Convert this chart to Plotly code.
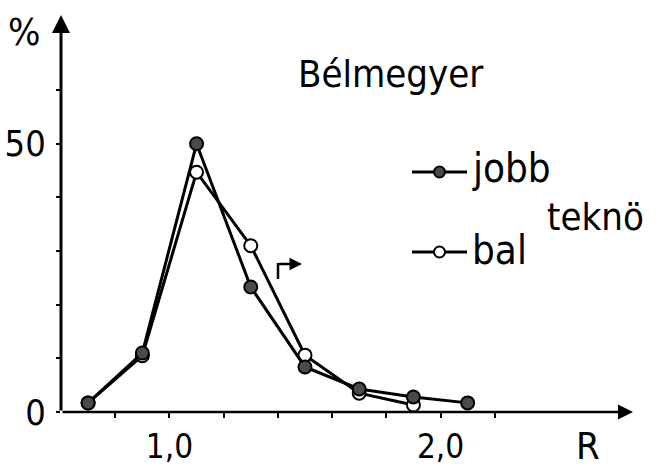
import plotly.graph_objects as go

# ---- data ----
r_jobb = [0.7, 0.9, 1.1, 1.3, 1.5, 1.7, 1.9, 2.1]
pct_jobb = [1.7, 11.0, 50.0, 23.3, 8.4, 4.3, 2.8, 1.7]
r_bal = [0.7, 0.9, 1.1, 1.3, 1.5, 1.7, 1.9]
pct_bal = [1.7, 10.5, 44.7, 31.0, 10.6, 3.5, 1.3]

x_tickvals = [0.8, 1.0, 1.2, 1.4, 1.6, 1.8, 2.0, 2.2]
x_ticktext = ["", "1,0", "", "", "", "", "2,0", ""]
y_tickvals = [0, 10, 20, 30, 40, 50, 60]
y_ticktext = ["0", "", "", "", "", "50", ""]

FONT = "DejaVu Sans Condensed, Liberation Sans Narrow, sans-serif"

# plot-area geometry (px) used for placing decorations
L, R_, T, B = 61, 29, 15, 58
W, H = 662, 470
PW, PH = W - L - R_, H - T - B


def px(x):
    return (x - L) / PW


def py(y):
    return (H - B - y) / PH


fig = go.Figure()

fig.add_trace(go.Scatter(
    x=r_bal, y=pct_bal, mode="lines+markers", name="bal",
    line=dict(color="black", width=3),
    marker=dict(size=13, color="white", line=dict(color="black", width=2)),
    cliponaxis=False,
))
fig.add_trace(go.Scatter(
    x=r_jobb, y=pct_jobb, mode="lines+markers", name="jobb",
    line=dict(color="black", width=3),
    marker=dict(size=13, color="#4a4a4a", line=dict(color="black", width=2)),
    cliponaxis=False,
))

x0, x1 = 0.6, 2.71
y0, y1 = 0, 74

fig.update_xaxes(
    range=[x0, x1], showgrid=False, zeroline=False, showline=False,
    tickvals=x_tickvals, ticktext=x_ticktext, ticks="outside",
    ticklen=5, tickwidth=2, tickcolor="black",
    tickfont=dict(family=FONT, size=33, color="black"),
    ticklabelstandoff=0, automargin=False,
)
fig.update_yaxes(
    range=[y0, y1], showgrid=False, zeroline=False, showline=False,
    tickvals=y_tickvals, ticktext=y_ticktext, ticks="outside",
    ticklen=4, tickwidth=2, tickcolor="black",
    tickfont=dict(family=FONT, size=36, color="black"),
    ticklabelstandoff=3, automargin=False,
)

anns = []
# axes as arrows
anns.append(dict(x=x1, y=0, ax=x0, ay=0, xref="x", yref="y", axref="x", ayref="y",
                 showarrow=True, arrowhead=2, arrowsize=1.2, arrowwidth=2.5,
                 arrowcolor="black", text=""))
anns.append(dict(x=x0, y=y1, ax=x0, ay=0, xref="x", yref="y", axref="x", ayref="y",
                 showarrow=True, arrowhead=2, arrowsize=1.2, arrowwidth=3,
                 arrowcolor="black", text=""))

def text(s, x, y, size, xanchor="left", yanchor="middle"):
    anns.append(dict(text=s, x=px(x), y=py(y), xref="paper", yref="paper",
                     showarrow=False, xanchor=xanchor, yanchor=yanchor,
                     font=dict(family=FONT, size=size, color="black")))

text("%", 6, 32, 38)
text("R", 588, 446, 38, xanchor="center")
text("Bélmegyer", 296, 74, 38)
text("jobb", 470, 168, 40)
text("bal", 470, 250, 40)
text("teknö", 545, 217, 38)

# little arrow mark near the curve
anns.append(dict(x=px(302), y=py(264), ax=-25, ay=0, xref="paper", yref="paper",
                 axref="pixel", ayref="pixel", showarrow=True, arrowhead=2, arrowsize=1,
                 arrowwidth=2.5, arrowcolor="black", text=""))

shapes = []
shapes.append(dict(type="line", xref="paper", yref="paper", x0=px(278), x1=px(278),
                   y0=py(279), y1=py(263), line=dict(color="black", width=2.5)))
# legend keys
for ky, fill in [(172, "#4a4a4a"), (252, "white")]:
    shapes.append(dict(type="line", xref="paper", yref="paper", x0=px(412), x1=px(467),
                       y0=py(ky), y1=py(ky), line=dict(color="black", width=3)))
    shapes.append(dict(type="circle", xref="paper", yref="paper",
                       x0=px(434), x1=px(445), y0=py(ky - 5.5), y1=py(ky + 5.5),
                       fillcolor=fill, line=dict(color="black", width=2)))

fig.update_layout(
    width=W, height=H, margin=dict(l=L, r=R_, t=T, b=B),
    plot_bgcolor="white", paper_bgcolor="white", showlegend=False,
    annotations=anns, shapes=shapes,
)

fig.write_html("out.html", config={"displayModeBar": False},
               post_script="document.body.style.margin='0';document.body.style.overflow='hidden';")
